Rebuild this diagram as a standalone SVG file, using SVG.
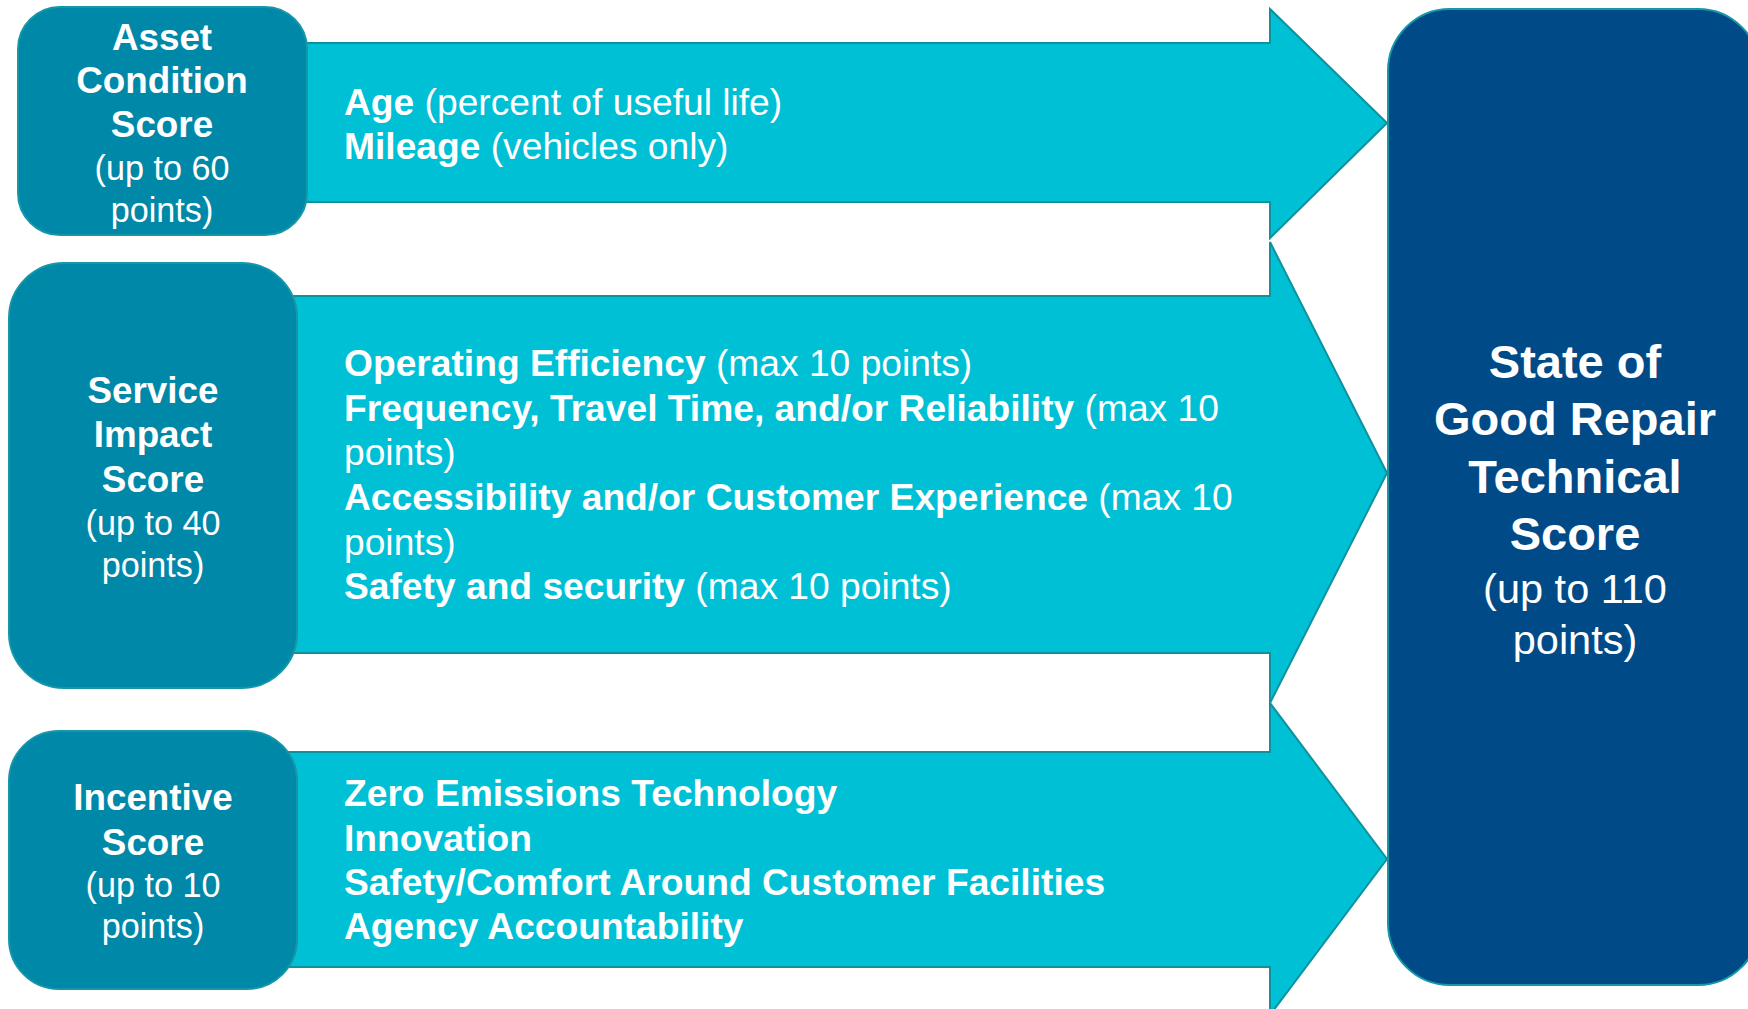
<svg xmlns="http://www.w3.org/2000/svg" width="1748" height="1009" viewBox="0 0 1748 1009">
<style>
.arrow{fill:#00C0D6;stroke:#0E929E;stroke-width:2;stroke-linejoin:miter}
.box{fill:#0088A8;stroke:#1597A8;stroke-width:2}
.result{fill:#004B87;stroke:#1597A8;stroke-width:2}
text{font-family:"Liberation Sans",Arial,sans-serif;fill:#FFFFFF}
.bb{font-weight:bold;font-size:36.8px}
.br{font-size:34.2px}
.at{font-size:37.2px}
.b{font-weight:bold}
.rb{font-weight:bold;font-size:47px}
.rr{font-size:41.5px}
</style>
<rect width="1748" height="1009" fill="#FFFFFF"/>
<g id="connectors">
  <g id="arrow-asset">
    <path class="arrow" d="M290,43 H1270 V9 L1387,123 L1270,238 V202 H290 Z"/>
    <text class="at" x="344" y="115"><tspan class="b">Age</tspan> (percent of useful life)</text>
    <text class="at" x="344" y="159"><tspan class="b">Mileage</tspan> (vehicles only)</text>
  </g>
  <g id="arrow-service">
    <path class="arrow" d="M280,296 H1270 V242 L1387,473 L1270,703 V653 H280 Z"/>
    <text class="at" x="344" y="376"><tspan class="b">Operating Efficiency</tspan> (max 10 points)</text>
    <text class="at" x="344" y="421"><tspan class="b">Frequency, Travel Time, and/or Reliability</tspan> (max 10</text>
    <text class="at" x="344" y="465">points)</text>
    <text class="at" x="344" y="510"><tspan class="b">Accessibility and/or Customer Experience</tspan> (max 10</text>
    <text class="at" x="344" y="555">points)</text>
    <text class="at" x="344" y="599"><tspan class="b">Safety and security</tspan> (max 10 points)</text>
  </g>
  <g id="arrow-incentive">
    <path class="arrow" d="M280,752 H1270 V703 L1387,859 L1270,1015 V967 H280 Z"/>
    <text class="at b" x="344" y="806">Zero Emissions Technology</text>
    <text class="at b" x="344" y="851">Innovation</text>
    <text class="at b" x="344" y="895">Safety/Comfort Around Customer Facilities</text>
    <text class="at b" x="344" y="939">Agency Accountability</text>
  </g>
</g>
<g id="node-asset">
  <rect class="box" x="18" y="7" width="289" height="228" rx="42"/>
  <g text-anchor="middle">
    <text class="bb" x="162" y="50">Asset</text>
    <text class="bb" x="162" y="93">Condition</text>
    <text class="bb" x="162" y="137">Score</text>
    <text class="br" x="162" y="180">(up to 60</text>
    <text class="br" x="162" y="222">points)</text>
  </g>
</g>
<g id="node-service">
  <rect class="box" x="9" y="263" width="288" height="425" rx="55"/>
  <g text-anchor="middle">
    <text class="bb" x="153" y="403">Service</text>
    <text class="bb" x="153" y="447">Impact</text>
    <text class="bb" x="153" y="492">Score</text>
    <text class="br" x="153" y="535">(up to 40</text>
    <text class="br" x="153" y="577">points)</text>
  </g>
</g>
<g id="node-incentive">
  <rect class="box" x="9" y="731" width="288" height="258" rx="50"/>
  <g text-anchor="middle">
    <text class="bb" x="153" y="810">Incentive</text>
    <text class="bb" x="153" y="855">Score</text>
    <text class="br" x="153" y="897">(up to 10</text>
    <text class="br" x="153" y="938">points)</text>
  </g>
</g>
<g id="node-result">
  <rect class="result" x="1388" y="9" width="372" height="976" rx="62"/>
  <g text-anchor="middle">
    <text class="rb" x="1575" y="378">State of</text>
    <text class="rb" x="1575" y="435">Good Repair</text>
    <text class="rb" x="1575" y="493">Technical</text>
    <text class="rb" x="1575" y="550">Score</text>
    <text class="rr" x="1575" y="603">(up to 110</text>
    <text class="rr" x="1575" y="654">points)</text>
  </g>
</g>
</svg>
